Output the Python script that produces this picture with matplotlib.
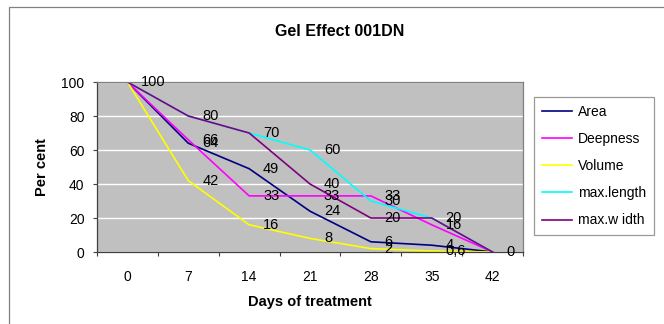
import matplotlib
matplotlib.use("Agg")
import matplotlib.pyplot as plt
from matplotlib.patches import Rectangle

plt.rcParams['font.family'] = ['Liberation Sans', 'DejaVu Sans']

days = ["0", "7", "14", "21", "28", "35", "42"]
area = [100, 64, 49, 24, 6, 4, 0]
deepness = [100, 66, 33, 33, 33, 16, 0]
volume = [100, 42, 16, 8, 2, 0.6, 0]
max_length = [100, 80, 70, 60, 30, 20, 0]
max_width = [100, 80, 70, 40, 20, 20, 0]

series = [
    ("Area", area, "#000080"),
    ("Deepness", deepness, "#FF00FF"),
    ("Volume", volume, "#FFFF00"),
    ("max.length", max_length, "#00FFFF"),
    ("max.w idth", max_width, "#800080"),
]

W, H = 664, 324
fig = plt.figure(figsize=(W / 100, H / 100), dpi=100)

# outer chart border
fig.patches.append(Rectangle((9 / W, -0.1), 1.2, 1 - 7 / H + 0.1, transform=fig.transFigure,
                             fill=False, edgecolor="#808080", linewidth=0.9))

ax = fig.add_axes([97 / W, 1 - 252 / H, (523 - 97) / W, (252 - 82) / H])
ax.set_facecolor("#C0C0C0")

x = list(range(len(days)))
for name, vals, col in series:
    ax.plot(x, vals, color=col, linewidth=1.2, label=name, solid_joinstyle="miter")

# data labels (identical labels at the same point coincide, draw them once)
seen = set()
for name, vals, col in series:
    for xi, v in zip(x, vals):
        s = (f"{v:g}").replace(".", ",")
        if (xi, s) in seen:
            continue
        seen.add((xi, s))
        ax.annotate(s, (xi, v), xytext=(10, 0), textcoords="offset points",
                    ha="left", va="center", fontsize=10.5, color="black")

ax.set_xlim(-0.5, len(days) - 0.5)
ax.set_ylim(0, 100)
ax.set_yticks([0, 20, 40, 60, 80, 100])
ax.yaxis.grid(True, color="white", linewidth=1.0)
ax.set_axisbelow(True)

ax.set_xticks([i + 0.5 for i in range(-1, len(days))])
ax.set_xticklabels([])
ax.set_xticks(x, minor=True)
ax.set_xticklabels(days, minor=True)
ax.tick_params(axis="x", which="major", direction="out", length=3, width=0.8, color="#404040")
ax.tick_params(axis="x", which="minor", length=0, pad=13, labelsize=10)
ax.tick_params(axis="y", direction="out", length=3, width=0.8, pad=6, labelsize=10, color="#404040")

for side in ["left", "bottom"]:
    ax.spines[side].set_color("#404040")
    ax.spines[side].set_linewidth(0.9)
for side in ["top", "right"]:
    ax.spines[side].set_color("#808080")
    ax.spines[side].set_linewidth(0.9)

fig.text(340 / W, 1 - 31 / H, "Gel Effect 001DN", ha="center", va="center",
         fontsize=11.5, fontweight="bold")
fig.text(42 / W, 1 - 167 / H, "Per cent", ha="center", va="center", rotation=90,
         fontsize=10.5, fontweight="bold")
fig.text(310 / W, 1 - 302 / H, "Days of treatment", ha="center", va="center",
         fontsize=10.5, fontweight="bold")

leg = fig.legend(loc="upper left", bbox_to_anchor=(534 / W, 1 - 97 / H), frameon=True,
                 fontsize=10, handlelength=2.2, handletextpad=0.4, labelspacing=0.95,
                 borderpad=0.55, borderaxespad=0, fancybox=False)
leg.get_frame().set_edgecolor("#808080")
leg.get_frame().set_linewidth(0.9)

fig.savefig("out.png", dpi=100)
